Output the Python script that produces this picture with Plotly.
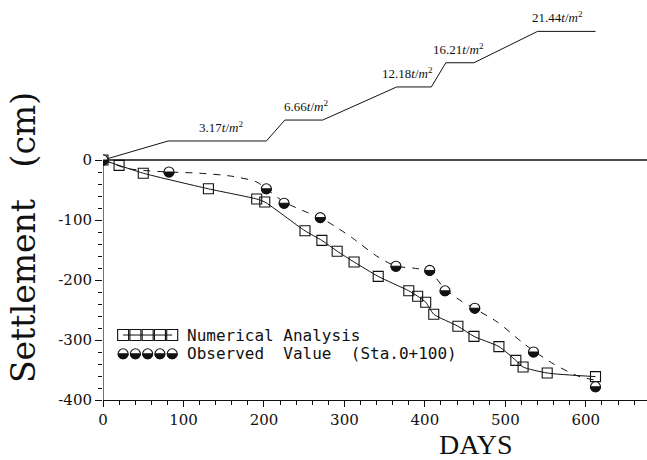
import numpy as np
import plotly.graph_objects as go

# ---- data -------------------------------------------------------------
# Numerical analysis: settlement (cm) vs elapsed days
num_days = [0, 20, 50, 131, 191, 201, 251, 272, 291, 312, 342, 380, 391,
            401, 411, 441, 461, 492, 513, 522, 552, 612]
num_settle = [0, -9, -22, -48, -65, -70, -118, -134, -152, -170, -194, -218,
              -227, -237, -257, -277, -294, -311, -334, -345, -355, -361]

# Observed settlement at Sta.0+100
obs_days = [0, 82, 203, 225, 270, 364, 406, 425, 462, 535, 612]
obs_settle = [0, -20, -48, -72, -96, -177, -184, -218, -247, -320, -378]

# Smoothed trend drawn through the observations
trend_days = [0, 30, 56, 82, 120, 160, 190, 203, 225, 255, 270, 290, 310,
              340, 364, 385, 406, 425, 445, 462, 490, 520, 535, 560, 590, 612]
trend_settle = [0, -14, -18, -20, -22, -27, -36, -48, -70, -88, -96, -112,
                -130, -160, -177, -180, -186, -215, -235, -248, -270, -303,
                -318, -340, -360, -367]

# Embankment load history (t/m^2)
load_days = [0, 81, 203, 226, 273, 365, 408, 426, 461, 540, 612]
load_values = [0, 3.17, 3.17, 6.66, 6.66, 12.18, 12.18, 16.21, 16.21,
               21.44, 21.44]
load_levels = [3.17, 6.66, 12.18, 16.21, 21.44]

y_ticks = [0, -100, -200, -300, -400]
x_ticks = [0, 100, 200, 300, 400, 500, 600]

# ---- layout constants ---------------------------------------------------
W, H = 647, 460
ML, MR, MT, MB = 103, 0, 0, 60
X_RANGE = [0, 676]
Y_RANGE = [-400, 266.7]
LOAD_SCALE = 10.0          # cm of plot height per t/m^2
INK = "#111111"
SERIF = "DejaVu Serif"
NB = "\u00a0"

px_per_day = (W - ML - MR) / (X_RANGE[1] - X_RANGE[0])
px_per_cm = (H - MT - MB) / (Y_RANGE[1] - Y_RANGE[0])

fig = go.Figure()

# load history above the zero line
load_y = [v * LOAD_SCALE for v in load_values]
fig.add_trace(go.Scatter(x=load_days, y=load_y, mode="lines",
                         line=dict(color=INK, width=1), hoverinfo="skip"))

# numerical analysis curve
fig.add_trace(go.Scatter(x=num_days, y=num_settle, mode="lines+markers",
                         line=dict(color=INK, width=1, shape="spline",
                                   smoothing=0.6),
                         marker=dict(symbol="square-open", size=10,
                                     color=INK, line=dict(width=1.1))))

# observed trend (dashed)
fig.add_trace(go.Scatter(x=trend_days, y=trend_settle, mode="lines",
                         line=dict(color=INK, width=1, dash="7px,7px",
                                   shape="spline", smoothing=0.7),
                         hoverinfo="skip"))

# observed points: open circle, lower half filled via shapes below
fig.add_trace(go.Scatter(x=obs_days, y=obs_settle, mode="markers",
                         marker=dict(symbol="circle", size=10, color="white",
                                     line=dict(color=INK, width=1.1))))

shapes = []


def lower_half(cx, cy, r_px=5.0):
    """Cubic-Bezier path for the lower half of a marker-sized circle."""
    rx = r_px / px_per_day
    ry = r_px / px_per_cm
    k = 0.5523
    return dict(
        type="path", xref="x", yref="y", layer="above",
        path=(f"M {cx - rx},{cy} "
              f"C {cx - rx},{cy - k * ry} {cx - k * rx},{cy - ry} {cx},{cy - ry} "
              f"C {cx + k * rx},{cy - ry} {cx + rx},{cy - k * ry} {cx + rx},{cy} Z"),
        fillcolor=INK, line=dict(color=INK, width=1))


for d, s in zip(obs_days, obs_settle):
    shapes.append(lower_half(d, s))

# legend block drawn inside the plot
leg_x = np.linspace(25, 86, 5)
leg_y_num = -291.7
leg_y_obs = -323.0
fig.add_trace(go.Scatter(x=leg_x, y=[leg_y_num] * 5, mode="lines+markers",
                         line=dict(color=INK, width=1),
                         marker=dict(symbol="square-open", size=11, color=INK,
                                     line=dict(width=1.1)), hoverinfo="skip"))
fig.add_trace(go.Scatter(x=leg_x, y=[leg_y_obs] * 5, mode="markers",
                         marker=dict(symbol="circle", size=10, color="white",
                                     line=dict(color=INK, width=1.1)),
                         hoverinfo="skip"))
for d in leg_x:
    shapes.append(lower_half(d, leg_y_obs))

# zero line and the short y-axis spine (0 .. -400)
shapes.append(dict(type="line", xref="x", yref="y", x0=X_RANGE[0], x1=X_RANGE[1],
                   y0=0, y1=0, line=dict(color=INK, width=1.3), layer="below"))
shapes.append(dict(type="line", xref="x", yref="y", x0=0, x1=0,
                   y0=-400, y1=0, line=dict(color=INK, width=1.2), layer="below"))

annotations = []
leg_font = dict(family="DejaVu Sans Mono", size=16, color=INK)
annotations.append(dict(x=102, y=leg_y_num, xref="x", yref="y",
                        text="Numerical Analysis", showarrow=False,
                        xanchor="left", yanchor="middle", font=leg_font))
annotations.append(dict(x=102, y=leg_y_obs, xref="x", yref="y",
                        text="Observed" + NB + " Value" + NB + " (Sta.0+100)",
                        showarrow=False, xanchor="left", yanchor="middle",
                        font=leg_font))

# load level labels above each plateau
label_xshift = [4, 2, -7, -1, -9]
plateaus = [(1, 2), (3, 4), (5, 6), (7, 8), (9, 10)]
for lvl, (i0, i1), dx in zip(load_levels, plateaus, label_xshift):
    annotations.append(dict(
        x=(load_days[i0] + load_days[i1]) / 2, y=lvl * LOAD_SCALE,
        xref="x", yref="y", yanchor="bottom", xanchor="center",
        yshift=4, xshift=dx, showarrow=False,
        text=f"{lvl:.2f}<i>t</i>/<i>m</i><sup>2</sup>",
        font=dict(family="Liberation Serif", size=13, color=INK)))

# axis titles
annotations.append(dict(x=-0.147, y=0.405, xref="paper", yref="paper",
                        text="Settlement" + NB * 2 + " (cm)", textangle=-90,
                        showarrow=False, xanchor="center", yanchor="middle",
                        font=dict(family=SERIF, size=33, color=INK)))
annotations.append(dict(x=0.686, y=-0.1525, xref="paper", yref="paper",
                        text="DAYS", showarrow=False, xanchor="center",
                        yanchor="bottom", borderpad=0,
                        font=dict(family="Liberation Serif", size=28, color=INK)))

fig.update_layout(
    width=W, height=H,
    margin=dict(l=ML, r=MR, t=MT, b=MB, pad=0),
    paper_bgcolor="white", plot_bgcolor="white",
    showlegend=False,
    shapes=shapes, annotations=annotations,
    xaxis=dict(range=X_RANGE, showgrid=False, zeroline=False,
               showline=True, linecolor=INK, linewidth=1.2,
               tickmode="array", tickvals=x_ticks,
               ticktext=[str(v) for v in x_ticks],
               ticks="outside", ticklen=6, tickwidth=1, tickcolor=INK,
               ticklabelstandoff=0,
               minor=dict(tickmode="array",
                          tickvals=list(range(0, 680, 20)),
                          ticks="outside", ticklen=4, tickwidth=1,
                          tickcolor=INK, showgrid=False),
               tickfont=dict(family=SERIF, size=15, color=INK)),
    yaxis=dict(range=Y_RANGE, showgrid=False, zeroline=False,
               showline=False,
               tickmode="array", tickvals=y_ticks,
               ticktext=[str(v) for v in y_ticks],
               ticks="outside", ticklen=7, tickwidth=1, tickcolor=INK,
               minor=dict(tickmode="array",
                          tickvals=list(range(-400, 1, 20)),
                          ticks="outside", ticklen=4, tickwidth=1,
                          tickcolor=INK, showgrid=False),
               tickfont=dict(family=SERIF, size=15, color=INK)),
)

fig.write_html("out.html")
